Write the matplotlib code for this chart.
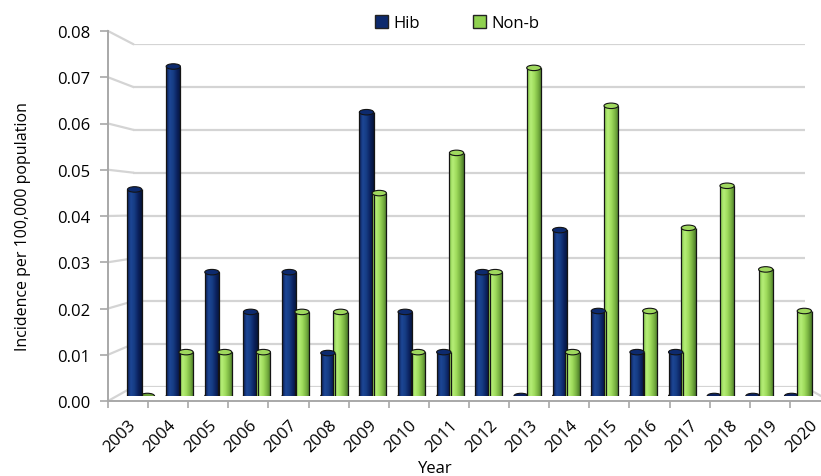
import numpy as np
import matplotlib
matplotlib.use("Agg")
import matplotlib.pyplot as plt
from matplotlib.patches import Ellipse, Patch
from matplotlib.lines import Line2D
from matplotlib.colors import LinearSegmentedColormap

plt.rcParams['font.family'] = ['Open Sans', 'DejaVu Sans']

# --- Data
years = [str(y) for y in range(2003, 2021)]
hib = [0.0452, 0.0721, 0.0271, 0.0184, 0.0271, 0.0094, 0.0621, 0.0184, 0.0096,
       0.0271, 0.0, 0.0363, 0.0186, 0.0096, 0.0096, 0.0, 0.0, 0.0]
nonb = [0.0, 0.0096, 0.0096, 0.0096, 0.0184, 0.0184, 0.0444, 0.0096, 0.0532,
        0.0271, 0.0718, 0.0096, 0.0635, 0.0186, 0.0368, 0.0460, 0.0277, 0.0186]
yticks = [0.00, 0.01, 0.02, 0.03, 0.04, 0.05, 0.06, 0.07, 0.08]

W, H = 821, 477
fig = plt.figure(figsize=(W / 100, H / 100), dpi=100)


def px_axes(left, right, top, bottom):
    # axes rectangle given in picture pixels
    return fig.add_axes([left / W, 1 - bottom / H, (right - left) / W, (bottom - top) / H])


grid_col = '#d4d4d4'
axis_col = '#a8a8a8'

# --- back wall (grid lines)
ax_back = px_axes(133, 805, 45, 388)
ax_back.set_ylim(0, 0.08)
ax_back.set_xlim(0, 1)
ax_back.set_yticks(yticks)
ax_back.grid(axis='y', color=grid_col, lw=1.6)
ax_back.tick_params(left=False, bottom=False, labelleft=False, labelbottom=False)
for s in ax_back.spines.values():
    s.set_visible(False)
ax_back.patch.set_visible(False)

# --- front axis (ticks and labels)
n = len(years)
ax = px_axes(108, 830, 32, 402)
ax.patch.set_visible(False)
ax.set_ylim(0, 0.08)
ax.set_xlim(-0.5, n - 0.5)
ax.set_yticks(yticks)
ax.set_yticklabels([f"{v:.2f}" for v in yticks])
ax.set_xticks(np.arange(n))
ax.set_xticklabels(years, rotation=45, ha='right', va='top', rotation_mode='anchor')
ax.set_xticks(np.arange(n + 1) - 0.5, minor=True)
ax.tick_params(axis='x', which='major', length=0, pad=11, labelsize=12)
ax.tick_params(axis='x', which='minor', length=5, color=axis_col, width=1.2)
ax.tick_params(axis='y', length=6, color=axis_col, width=1.2, pad=7, labelsize=12)
for s in ['top', 'right']:
    ax.spines[s].set_visible(False)
for s in ['left', 'bottom']:
    ax.spines[s].set_color(axis_col)
    ax.spines[s].set_linewidth(1.4)

# diagonal lines joining the front axis to the back wall (kept behind the bars)
inv = fig.transFigure.inverted()
for v in yticks:
    p0 = inv.transform(ax.transData.transform((-0.5, v)))
    p1 = inv.transform(ax_back.transData.transform((0, v)))
    fig.add_artist(Line2D([p0[0], p1[0]], [p0[1], p1[1]], color=grid_col, lw=1.6, zorder=-1))
# right edge of the floor
p0 = inv.transform(ax_back.transData.transform((1, 0)))
p1 = inv.transform(ax.transData.transform((n - 0.5, 0)))
fig.add_artist(Line2D([p0[0], p1[0]], [p0[1], p1[1]], color=grid_col, lw=1.6, zorder=-1))

# --- bars (cylinders)
axb = px_axes(121.7, 817.3, 31.4, 397)
axb.patch.set_visible(False)
axb.axis('off')

hib_cmap = LinearSegmentedColormap.from_list(
    'hib', ['#0a1d52', '#1d4796', '#163c84', '#0b225e', '#061438'])
nonb_cmap = LinearSegmentedColormap.from_list(
    'nonb', ['#86c94a', '#b6ee78', '#9fdc5c', '#7ab342', '#4a7a28'])

x = np.arange(n)
bw = 0.37
off = 0.165
cap_h = 0.0012
edge = '#141414'
grad = np.linspace(0, 1, 64)[None, :]

series = [(hib, x - off, hib_cmap, '#0b2260', '#0d2a6e'),
          (nonb, x + off, nonb_cmap, '#6a9e38', '#9fd85e')]
for vals, xs, cmap, bottom_col, top_col in series:
    bars = axb.bar(xs, vals, width=bw, color=cmap(0.4), edgecolor='none', zorder=2)
    for xc, v, rect in zip(xs, vals, bars):
        axb.add_patch(Ellipse((xc, 0), bw, cap_h, facecolor=bottom_col,
                              edgecolor=edge, lw=0.8, zorder=1.5))
        if v > 0:
            im = axb.imshow(grad, cmap=cmap, extent=[xc - bw / 2, xc + bw / 2, 0, v],
                            aspect='auto', zorder=2.1, interpolation='bilinear')
            im.set_clip_path(rect)
            axb.vlines([xc - bw / 2, xc + bw / 2], 0, v, color=edge, lw=0.9, zorder=2.2)
            axb.add_patch(Ellipse((xc, v), bw, cap_h, facecolor=top_col,
                                  edgecolor=edge, lw=0.8, zorder=3))

axb.set_xlim(-0.5, n - 0.5)
axb.set_ylim(0, 0.08)

# --- labels and legend
fig.text(23 / W, 1 - 227 / H, 'Incidence per 100,000 population', rotation=90,
         ha='center', va='center', fontsize=11.5)
fig.text(435 / W, 1 - 469 / H, 'Year', ha='center', va='center', fontsize=12)

handles = [Patch(facecolor='#0d2a6e', edgecolor='#222222'),
           Patch(facecolor='#8fd14f', edgecolor='#222222')]
fig.legend(handles, ['Hib', 'Non-b'], loc='center', bbox_to_anchor=(457 / W, 1 - 24 / H),
           ncol=2, frameon=False, fontsize=12, handlelength=0.8, handleheight=0.8,
           handletextpad=0.3, columnspacing=3.2)

fig.savefig('out.png', dpi=100)
